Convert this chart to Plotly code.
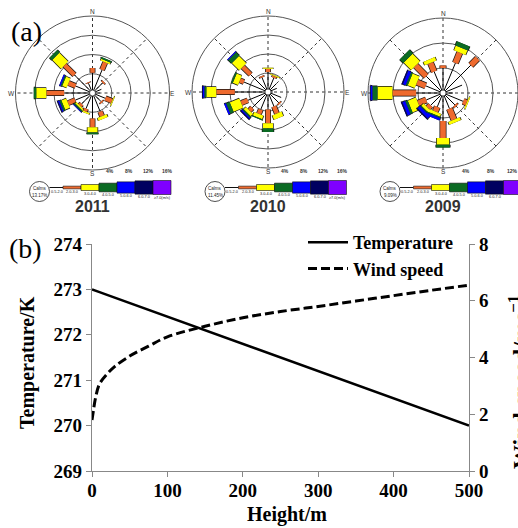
import numpy as np
import plotly.graph_objects as go

W, H = 518, 528
def px(x):
    return x / W
def py(y):
    return 1 - y / H

# ---------------- (a) wind roses ----------------
dir_angles = [0, 22.5, 45, 67.5, 90, 112.5, 135, 157.5, 180, 202.5, 225, 247.5, 270, 292.5, 315, 337.5]
spoke_angles = [0, 45, 90, 135, 180, 225, 270, 315]
compass_labels = ["N", "E", "S", "W"]
speed_classes = ["0.5-2.0", "2.0-3.0", "3.0-4.0", "4.0-5.0", "5.0-6.0", "6.0-7.0", "\u22657.0(m/s)"]
class_colors = ["#000000", "#EE6A2E", "#FFFF00", "#0B6B23", "#0000FF", "#000060", "#7F00FF"]
years = ["2011", "2010", "2009"]
calms = ["13.17%", "11.45%", "9.09%"]
ring_max = [16, 16, 12]

f2011_c1 = [4.2, 5.2, 3.0, 2.0, 1.5, 2.9, 2.5, 4.2, 5.3, 3.5, 3.2, 3.9, 5.9, 3.8, 5.3, 2.2]
f2011_c2 = [1.0, 1.7, 0.3, 0, 0, 1.5, 0.3, 1.0, 1.8, 0.6, 0.5, 1.6, 3.7, 1.6, 2.9, 0.2]
f2011_c3 = [0, 0.4, 0, 0, 0, 0.2, 0, 0.6, 1.1, 0.3, 0.4, 1.1, 2.1, 1.0, 2.6, 0]
f2011_c4 = [0, 0.3, 0, 0, 0, 0, 0, 0, 0.35, 0, 0.3, 0.4, 0.5, 0.3, 0.7, 0]
f2011_c5 = [0, 0, 0, 0, 0, 0, 0, 0, 0, 0, 0.15, 0.3, 0, 0.3, 0, 0]
f2011_c6 = [0, 0, 0, 0, 0, 0, 0, 0, 0, 0, 0, 0.2, 0, 0, 0, 0]

f2010_c1 = [4.2, 3.2, 2.5, 2.0, 1.0, 3.0, 3.2, 3.3, 3.7, 4.0, 4.7, 4.6, 7.0, 5.5, 5.2, 3.3]
f2010_c2 = [0.7, 0.4, 0, 0, 0, 0, 0.3, 1.6, 2.9, 1.0, 0.8, 1.5, 3.9, 0.9, 2.3, 0.3]
f2010_c3 = [0.2, 0.2, 0, 0, 0, 0, 0, 1.0, 1.1, 0.8, 0.7, 2.2, 2.1, 1.2, 2.2, 0]
f2010_c4 = [0, 0, 0, 0, 0, 0, 0, 0, 0.7, 0.2, 0.3, 0.8, 0.4, 0.3, 1.0, 0]
f2010_c5 = [0, 0, 0, 0, 0, 0, 0, 0, 0, 0, 0.3, 0.4, 0.3, 0, 0.2, 0]
f2010_c6 = [0, 0, 0, 0, 0, 0, 0, 0, 0, 0, 0.2, 0, 0.2, 0, 0, 0]

f2009_c1 = [4.0, 5.2, 6.3, 3.3, 1.6, 3.5, 2.7, 2.7, 4.5, 2.4, 2.8, 2.9, 4.3, 3.0, 3.8, 3.7]
f2009_c2 = [0.4, 1.8, 1.5, 0, 0, 0.6, 0.3, 1.9, 2.7, 0.8, 0.6, 1.4, 3.8, 1.5, 2.4, 1.5]
f2009_c3 = [0, 0.8, 0, 0, 0, 0.2, 0, 0.5, 1.1, 0.5, 0.5, 1.4, 2.4, 1.2, 1.7, 0.6]
f2009_c4 = [0, 0.7, 0, 0, 0, 0, 0, 0, 0.4, 0.2, 0.2, 0.4, 0.8, 0.3, 0.8, 0]
f2009_c5 = [0, 0, 0, 0, 0, 0, 0, 0, 0, 0.4, 0.5, 0.5, 0.3, 0.5, 0, 0]
f2009_c6 = [0, 0, 0, 0, 0, 0, 0, 0, 0, 0, 0.2, 0.2, 0.1, 0.2, 0, 0]

rose_data = [
    [f2011_c1, f2011_c2, f2011_c3, f2011_c4, f2011_c5, f2011_c6],
    [f2010_c1, f2010_c2, f2010_c3, f2010_c4, f2010_c5, f2010_c6],
    [f2009_c1, f2009_c2, f2009_c3, f2009_c4, f2009_c5, f2009_c6],
]

# ---------------- (b) profiles ----------------
heights = [0, 2, 5, 10, 20, 30, 50, 75, 100, 150, 200, 250, 300, 350, 400, 450, 500]
temperature = [273.0, 272.99, 272.97, 272.94, 272.88, 272.82, 272.7, 272.55, 272.4,
               272.1, 271.8, 271.5, 271.2, 270.9, 270.6, 270.3, 270.0]
wind_speed = [1.8, 2.15, 2.62, 3.07, 3.42, 3.68, 4.05, 4.4, 4.73,
              5.1, 5.4, 5.62, 5.8, 5.99, 6.18, 6.37, 6.55]
height_ticks = [0, 100, 200, 300, 400, 500]
temp_ticks = [269, 270, 271, 272, 273, 274]
wind_ticks = [0, 2, 4, 6, 8]

fig = go.Figure()

rose_geom = [(92.5, 93, 77), (268, 92, 76), (443, 93, 75)]
bar_widths = [1, 4.5, 10, 11, 11.5, 12, 12.5]
width_scale = [1.0, 1.0, 1.25]

shapes = []
annotations = []
polars = {}

def note(x, y, text, size, family="Liberation Sans", color="#222", weight="normal", angle=0):
    annotations.append(dict(x=px(x), y=py(y), xref="paper", yref="paper", text=text,
                            showarrow=False, xanchor="center", yanchor="middle",
                            textangle=angle,
                            font=dict(size=size, family=family, color=color, weight=weight)))

for i, classes in enumerate(rose_data):
    name = "polar" if i == 0 else f"polar{i + 1}"
    cx, cy, rr = rose_geom[i]
    rmax = ring_max[i]
    polars[name] = dict(
        domain=dict(x=[px(cx - rr), px(cx + rr)], y=[py(cy + rr), py(cy - rr)]),
        bgcolor="white",
        radialaxis=dict(range=[0, rmax], tickvals=list(range(4, rmax + 1, 4)),
                        showticklabels=False, ticks="", showline=False,
                        gridcolor="#555", gridwidth=0.8),
        angularaxis=dict(rotation=90, direction="clockwise", tickmode="array",
                         tickvals=spoke_angles, showticklabels=False, ticks="",
                         gridcolor="#333", gridwidth=0.8, griddash="dot",
                         showline=True, linecolor="#555", linewidth=1),
    )
    cum = np.zeros(len(dir_angles))
    for k, vals in enumerate(classes):
        vals = np.array(vals, dtype=float)
        r, th = [], []
        for d in range(len(dir_angles)):
            if vals[d] > 0:
                r += [cum[d], cum[d] + vals[d], None]
                th += [dir_angles[d], dir_angles[d], None]
        cum = cum + vals
        if not r:
            continue
        w = bar_widths[k] * (width_scale[i] if k > 0 else 1)
        if k > 0:
            fig.add_trace(go.Scatterpolar(r=r, theta=th, mode="lines", subplot=name,
                                          line=dict(color="#111", width=w + 1.4),
                                          showlegend=False, hoverinfo="skip"))
        fig.add_trace(go.Scatterpolar(r=r, theta=th, mode="lines", subplot=name,
                                      line=dict(color=class_colors[k], width=w),
                                      showlegend=False, name=speed_classes[k]))
    # compass letters (the E of the right-hand rose falls outside the picture)
    note(cx, cy - rr - 4, compass_labels[0], 6.5, color="#333")
    if cx + rr + 6 < W:
        note(cx + rr + 3, cy, compass_labels[1], 6.5, color="#333")
    note(cx, cy + rr + 3, compass_labels[2], 6.5, color="#333")
    note(cx - rr - 4, cy, compass_labels[3], 6.5, color="#333")
    # centre calm circle
    shapes.append(dict(type="circle", xref="paper", yref="paper",
                       x0=px(cx - 3), x1=px(cx + 3), y0=py(cy + 3), y1=py(cy - 3),
                       fillcolor="white", line=dict(color="#222", width=0.7)))
    # ring scale labels
    for t in range(4, rmax + 1, 4):
        note(min(cx + rr * t / rmax - 2, W - 6), 171, f"{t}%", 5, color="#333", weight="bold")
    # speed legend
    ly = 187.5
    shapes.append(dict(type="circle", xref="paper", yref="paper",
                       x0=px(cx - 63), x1=px(cx - 43), y0=py(ly + 14), y1=py(ly - 6),
                       fillcolor="white", line=dict(color="#222", width=0.8)))
    note(cx - 53, ly + 1.5, "Calms", 4.5)
    note(cx - 53, ly + 7.5, calms[i], 4.5)
    shapes.append(dict(type="line", xref="paper", yref="paper",
                       x0=px(cx - 43), x1=px(cx - 29.5), y0=py(ly), y1=py(ly),
                       line=dict(color="#111", width=1)))
    note(cx - 36, ly + 4, speed_classes[0], 3.8)
    leg_h = [2.7, 6, 8.7, 11.3, 13.3, 14]
    for k in range(1, 7):
        x0 = cx - 29.5 + (k - 1) * 18
        h = leg_h[k - 1]
        shapes.append(dict(type="rect", xref="paper", yref="paper",
                           x0=px(x0), x1=px(x0 + 18), y0=py(ly + h / 2), y1=py(ly - h / 2),
                           fillcolor=class_colors[k], line=dict(color="#111", width=0.6)))
        if x0 + 9 < W - 8:
            note(x0 + 9, ly + h / 2 + 3, speed_classes[k], 3.8)
    note(cx, 206, years[i], 16, color="#333", weight="bold")

# ---------------- (b) traces ----------------
fig.add_trace(go.Scatter(x=heights, y=temperature, mode="lines", name="Temperature",
                         line=dict(color="black", width=2.6), xaxis="x", yaxis="y"))
fig.add_trace(go.Scatter(x=heights, y=wind_speed, mode="lines", name="Wind speed",
                         line=dict(color="black", width=3, dash="9px,4px", shape="spline"),
                         xaxis="x", yaxis="y2"))

tick_font = dict(size=19, family="Liberation Serif", color="black")
axis_common = dict(showline=True, linecolor="#888", linewidth=1.2, ticks="outside",
                   ticklen=5, tickcolor="#888", tickwidth=1.2, showgrid=False, zeroline=False,
                   tickfont=tick_font, automargin=False, tickmode="array")

def bold(vals):
    return [f"<b>{v}</b>" for v in vals]

note(26, 31, "(a)", 28, family="Liberation Serif", color="black")
note(25, 248, "(b)", 28, family="Liberation Serif", color="black")
note(287, 514, "Height/m", 20, family="Liberation Serif", color="black", weight="bold")
note(27, 363, "Temperature/K", 20, family="Liberation Serif", color="black", weight="bold", angle=-90)
note(519, 382, "Wind speed/ms<sup>\u22121</sup>", 24, family="Liberation Serif", color="black",
     weight="bold", angle=-90)

fig.update_layout(
    width=W, height=H, margin=dict(l=0, r=0, t=0, b=0),
    paper_bgcolor="white", plot_bgcolor="white",
    xaxis=dict(domain=[px(92), px(469)], range=[0, 500], tickvals=height_ticks,
               ticktext=bold(height_ticks), anchor="y", ticklabelstandoff=-3, **axis_common),
    yaxis=dict(domain=[py(471), py(244)], range=[269, 274], tickvals=temp_ticks,
               ticktext=bold(temp_ticks), anchor="x", **axis_common),
    yaxis2=dict(range=[0, 8], tickvals=wind_ticks, ticktext=bold(wind_ticks),
                overlaying="y", side="right", anchor="x", **axis_common),
    legend=dict(x=px(303), y=py(224), xanchor="left", yanchor="top", bgcolor="rgba(0,0,0,0)",
                font=dict(size=18, family="Liberation Serif", color="black", weight="bold"),
                itemwidth=40, tracegroupgap=0),
    shapes=shapes, annotations=annotations, showlegend=True,
    **polars,
)

fig.write_html("out.html", config={"displayModeBar": False},
               post_script="document.body.style.margin='0px';")
